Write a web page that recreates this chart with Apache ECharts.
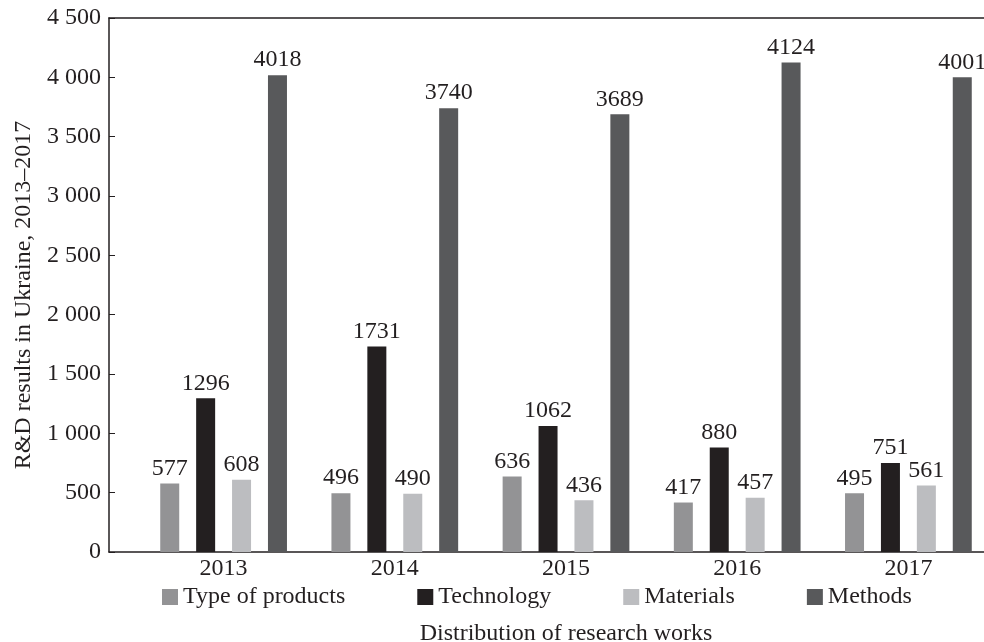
<!DOCTYPE html>
<html>
<head>
<meta charset="utf-8">
<script src="https://cdn.jsdelivr.net/npm/echarts@6/dist/echarts.min.js"></script>
<style>html,body{margin:0;padding:0;background:#fff}#c{width:984px;height:642px}</style>
</head>
<body>
<div id="c"></div>
<script>
const years = ['2013', '2014', '2015', '2016', '2017'];
const typeOfProducts = [577, 496, 636, 417, 495];
const technology = [1296, 1731, 1062, 880, 751];
const materials = [608, 490, 436, 457, 561];
const methods = [4018, 3740, 3689, 4124, 4001];
const yTicks = { min: 0, max: 4500, interval: 500 };

const FONT = '"Liberation Serif", "Times New Roman", serif';
const FS = 24;
const chart = echarts.init(document.getElementById('c'));
function fmt(v) { return String(v).replace(/\B(?=(\d{3})+(?!\d))/g, ' '); }
function bar(name, data, color) {
  return {
    name, type: 'bar', data, xAxisIndex: 0, yAxisIndex: 0,
    barWidth: 19, barGap: '89%',
    itemStyle: { color },
    label: { show: true, position: 'top', distance: 3, color: '#231f20', fontFamily: FONT, fontSize: FS }
  };
}
chart.setOption({
  animation: false,
  textStyle: { fontFamily: FONT },
  grid: [
    { left: 138, width: 856, top: 18, bottom: 90, outerBoundsMode: 'none', containLabel: false },
    { left: 109, right: 0, top: 18, bottom: 90, outerBoundsMode: 'none', containLabel: false }
  ],
  legend: {
    left: 162, top: 585, itemWidth: 16, itemHeight: 16, itemGap: 72,
    icon: 'rect', padding: 0,
    textStyle: { fontFamily: FONT, fontSize: FS, color: '#231f20' },
    data: ['Type of products', 'Technology', 'Materials', 'Methods']
  },
  xAxis: [
    { type: 'category', gridIndex: 0, data: years,
      axisLine: { show: false }, axisTick: { show: false },
      axisLabel: { color: '#231f20', fontSize: FS, fontFamily: FONT, margin: 5 },
      name: 'Distribution of research works', nameLocation: 'middle', nameGap: 70,
      nameTextStyle: { color: '#231f20', fontSize: FS, fontFamily: FONT } },
    { type: 'value', gridIndex: 1, min: 0, max: 1, position: 'bottom',
      axisLine: { show: true, lineStyle: { color: '#231f20', width: 1.5 } },
      axisTick: { show: false }, axisLabel: { show: false }, splitLine: { show: false } },
    { type: 'value', gridIndex: 1, min: 0, max: 1, position: 'top',
      axisLine: { show: true, lineStyle: { color: '#231f20', width: 1.5 } },
      axisTick: { show: false }, axisLabel: { show: false }, splitLine: { show: false } }
  ],
  yAxis: [
    { type: 'value', gridIndex: 0, min: yTicks.min, max: yTicks.max, interval: yTicks.interval, show: false },
    { type: 'value', gridIndex: 1, min: yTicks.min, max: yTicks.max, interval: yTicks.interval,
      axisLine: { show: true, lineStyle: { color: '#231f20', width: 1.5 } },
      axisTick: { show: true, inside: true, length: 6, lineStyle: { color: '#231f20' } },
      axisLabel: { color: '#231f20', fontSize: FS, fontFamily: FONT, margin: 8, formatter: fmt },
      splitLine: { show: false },
      name: 'R&D results in Ukraine, 2013–2017', nameLocation: 'middle', nameGap: 72,
      nameTextStyle: { color: '#231f20', fontSize: FS, fontFamily: FONT, padding: [0, 20, 0, 0] } }
  ],
  series: [
    bar('Type of products', typeOfProducts, '#939395'),
    bar('Technology', technology, '#231f20'),
    bar('Materials', materials, '#bcbdc0'),
    bar('Methods', methods, '#58595b')
  ]
});
</script>
</body>
</html>
